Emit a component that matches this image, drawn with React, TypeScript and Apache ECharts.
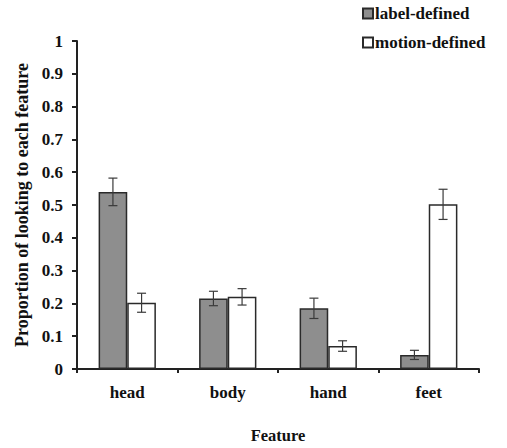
import React, { useEffect, useRef } from "react";
import * as echarts from "echarts";

const categories = ["head", "body", "hand", "feet"];
const labelDefined = [0.54, 0.215, 0.185, 0.043];
const labelErr = [0.042, 0.022, 0.031, 0.014];
const motionDefined = [0.202, 0.22, 0.07, 0.502];
const motionErr = [0.029, 0.025, 0.016, 0.046];
const yTicks = [0, 0.1, 0.2, 0.3, 0.4, 0.5, 0.6, 0.7, 0.8, 0.9, 1];

const FONT = "'Liberation Serif', 'Times New Roman', Times, serif";
const BAR_CAT_GAP = 0.43;

function errData(vals: number[], errs: number[]) {
  return vals.map((v, i) => [i, v - errs[i], v + errs[i]]);
}

function makeErrSeries(name: string, vals: number[], errs: number[], side: number) {
  return {
    type: "custom",
    name: name + "-err",
    silent: true,
    z: 10,
    data: errData(vals, errs),
    encode: { x: 0, y: [1, 2] },
    renderItem: (params: any, api: any) => {
      const idx = api.value(0);
      const lo = api.coord([idx, api.value(1)]);
      const hi = api.coord([idx, api.value(2)]);
      const band = api.size([1, 0])[0];
      const bw = (band * (1 - BAR_CAT_GAP)) / 2;
      const cx = lo[0] + (side * bw) / 2;
      const cap = 4.5;
      const style = { stroke: "#3a3a3a", lineWidth: 1.2 };
      return {
        type: "group",
        children: [
          { type: "line", shape: { x1: cx, y1: lo[1], x2: cx, y2: hi[1] }, style },
          { type: "line", shape: { x1: cx - cap, y1: lo[1], x2: cx + cap, y2: lo[1] }, style },
          { type: "line", shape: { x1: cx - cap, y1: hi[1], x2: cx + cap, y2: hi[1] }, style },
        ],
      };
    },
  };
}

export default function App() {
  const ref = useRef<HTMLDivElement>(null);
  useEffect(() => {
    const chart = echarts.init(ref.current!, null, { renderer: "svg" });
    chart.setOption({
      animation: false,
      backgroundColor: "#ffffff",
      textStyle: { fontFamily: FONT },
      legend: {
        orient: "vertical",
        left: 357,
        top: 0,
        itemWidth: 10,
        itemHeight: 10,
        itemGap: 12,
        icon: "rect",
        data: ["label-defined", "motion-defined"],
        textStyle: { fontFamily: FONT, fontWeight: "bold", fontSize: 17, color: "#111", padding: [0, 0, 0, -3] },
      },
      grid: { left: 77, top: 41, right: 28, bottom: 79, containLabel: false, outerBoundsMode: "none" },
      xAxis: {
        type: "category",
        data: categories,
        name: "Feature",
        nameLocation: "middle",
        nameGap: 58,
        nameTextStyle: { fontFamily: FONT, fontWeight: "bold", fontSize: 16.5, color: "#111" },
        axisLine: { lineStyle: { color: "#222", width: 2 } },
        axisTick: { show: true, length: 4, lineStyle: { color: "#222", width: 2 } },
        axisLabel: { fontFamily: FONT, fontWeight: "bold", fontSize: 17, color: "#111", margin: 15 },
      },
      yAxis: {
        type: "value",
        min: 0,
        max: 1,
        interval: 0.1,
        name: "Proportion of looking to each feature",
        nameLocation: "middle",
        nameGap: 45,
        nameRotate: 90,
        nameTextStyle: { fontFamily: FONT, fontWeight: "bold", fontSize: 18, color: "#111" },
        splitLine: { show: false },
        axisLine: { show: true, lineStyle: { color: "#222", width: 2 } },
        axisTick: { show: true, length: 5, lineStyle: { color: "#222", width: 2 } },
        axisLabel: {
          fontFamily: FONT,
          fontWeight: "bold",
          fontSize: 17,
          color: "#111",
          margin: 14,
          formatter: (v: number) => {
            const t = yTicks.find((x) => Math.abs(x - v) < 1e-6);
            return String(t !== undefined ? t : v);
          },
        },
      },
      series: [
        {
          type: "bar",
          name: "label-defined",
          data: labelDefined,
          barGap: "0%",
          barCategoryGap: BAR_CAT_GAP * 100 + "%",
          itemStyle: { color: "#8e8e8e", borderColor: "#2a2a2a", borderWidth: 1.5 },
        },
        {
          type: "bar",
          name: "motion-defined",
          data: motionDefined,
          barGap: "0%",
          barCategoryGap: BAR_CAT_GAP * 100 + "%",
          itemStyle: { color: "#ffffff", borderColor: "#2a2a2a", borderWidth: 1.5 },
        },
        makeErrSeries("label-defined", labelDefined, labelErr, -1),
        makeErrSeries("motion-defined", motionDefined, motionErr, 1),
      ],
    });
    return () => chart.dispose();
  }, []);
  return <div ref={ref} style={{ width: 507, height: 448, position: "absolute", left: 0, top: 0 }} />;
}
